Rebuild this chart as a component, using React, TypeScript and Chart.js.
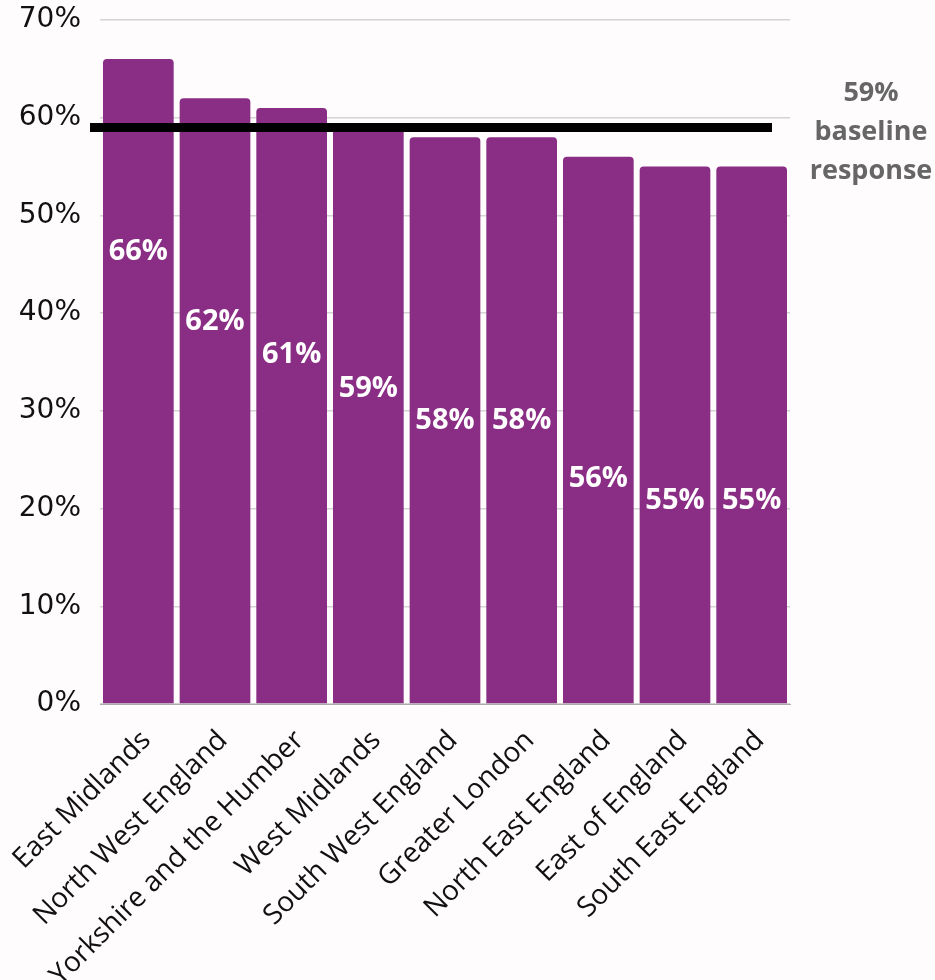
import React, { useEffect, useRef } from "react";
import { Chart, registerables } from "chart.js";

Chart.register(...registerables);

const regions = [
  "East Midlands",
  "North West England",
  "Yorkshire and the Humber",
  "West Midlands",
  "South West England",
  "Greater London",
  "North East England",
  "East of England",
  "South East England",
];
const responseRates = [66, 62, 61, 59, 58, 58, 56, 55, 55];
// value (in % units) at which each in-bar label is centred
const labelAnchors = [46.3, 39.1, 35.7, 32.3, 29.0, 29.0, 23.1, 20.8, 20.8];
const baselineValue = 59;
const baselineText = ["59%", "baseline", "response"];
const yTicks = [0, 10, 20, 30, 40, 50, 60, 70];

const BAR_COLOR = "#8a2d84";

const overlayPlugin = {
  id: "overlay",
  afterDatasetsDraw(chart: any) {
    const { ctx, chartArea, scales } = chart;
    const y = scales.y;
    const meta = chart.getDatasetMeta(0);
    ctx.save();
    ctx.fillStyle = "#ffffff";
    ctx.font = "bold 29px 'Open Sans'";
    ctx.textAlign = "center";
    ctx.textBaseline = "middle";
    meta.data.forEach((bar: any, i: number) => {
      ctx.fillText(responseRates[i] + "%", bar.x, y.getPixelForValue(labelAnchors[i]));
    });
    const by = y.getPixelForValue(baselineValue);
    ctx.strokeStyle = "#000000";
    ctx.lineWidth = 9;
    ctx.beginPath();
    ctx.moveTo(chartArea.left - 10, by);
    ctx.lineTo(chartArea.right - 18, by);
    ctx.stroke();
    ctx.fillStyle = "#666666";
    ctx.font = "bold 27px 'Open Sans'";
    const cx = chartArea.right + 81;
    baselineText.forEach((t, i) => {
      ctx.fillText(t, cx, by + 5 + (i - 1) * 39);
    });
    ctx.restore();
  },
};

export default function App() {
  const ref = useRef<HTMLCanvasElement>(null);
  useEffect(() => {
    document.body.style.margin = "0";
    document.body.style.background = "#fffcfe";
    const chart = new Chart(ref.current!, {
      type: "bar",
      data: {
        labels: regions,
        datasets: [
          {
            data: responseRates,
            backgroundColor: BAR_COLOR,
            borderRadius: { topLeft: 4, topRight: 4, bottomLeft: 0, bottomRight: 0 },
            borderSkipped: "bottom",
            barPercentage: 0.922,
            categoryPercentage: 1,
          },
        ],
      },
      options: {
        animation: false,
        responsive: false,
        devicePixelRatio: 1,
        layout: { padding: { top: 20, right: 145, left: 0, bottom: 0 } },
        plugins: { legend: { display: false }, tooltip: { enabled: false } },
        scales: {
          x: {
            grid: { display: false },
            border: { color: "#aaaaaa", width: 1 },
            ticks: {
              color: "#111111",
              font: { family: "'Open Sans'", size: 28 },
              maxRotation: 45,
              minRotation: 45,
              padding: 12,
              labelOffset: 8,
            },
            afterFit(scale: any) {
              scale.height = 276;
              scale.paddingLeft = 0;
              scale.paddingRight = 0;
              scale.paddingTop = 0;
              scale.paddingBottom = 0;
            },
          },
          y: {
            min: 0,
            max: 70,
            afterBuildTicks(scale: any) {
              scale.ticks = yTicks.map((v) => ({ value: v }));
            },
            grid: { color: "#d4d4d4", lineWidth: 1.5, drawTicks: false },
            border: { display: false },
            ticks: {
              color: "#111111",
              font: { family: "'DejaVu Sans'", size: 28 },
              padding: 19,
              callback: (v: any) => v + "%",
            },
            afterFit(scale: any) {
              scale.width = 100;
              scale.paddingTop = 0;
              scale.paddingBottom = 0;
              scale.paddingLeft = 0;
              scale.paddingRight = 0;
            },
          },
        },
      },
      plugins: [overlayPlugin],
    });
    return () => chart.destroy();
  }, []);
  return (
    <div style={{ position: "absolute", left: 0, top: 0, width: 935, height: 980, background: "#fffcfe" }}>
      <canvas ref={ref} width={935} height={980} style={{ width: 935, height: 980 }} />
    </div>
  );
}
